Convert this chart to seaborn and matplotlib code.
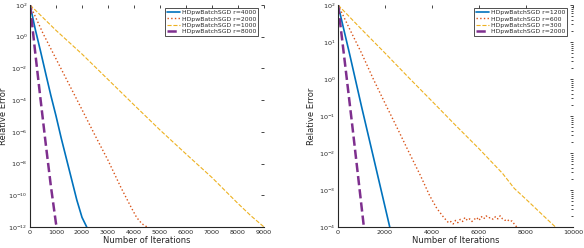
import matplotlib
matplotlib.use("Agg")
import matplotlib.pyplot as plt
import matplotlib.ticker as mticker
import pandas as pd
import seaborn as sns

# ---- left panel: r = 4000 / 2000 / 1000 / 8000 ----
left_labels = ["HDpwBatchSGD r=4000", "HDpwBatchSGD r=2000",
               "HDpwBatchSGD r=1000", "HDpwBatchSGD r=8000"]
left_blue_x = [0, 200, 400, 600, 800, 1000, 1200, 1400, 1600, 1800, 2000, 2180]
left_blue_y = [1e2, 3e0, 1.3e-1, 5e-3, 2e-4, 1e-5, 4e-7, 2e-8, 1e-9, 5e-11, 4e-12, 1e-12]
left_orange_x = [0, 500, 1000, 1500, 2000, 2500, 3000, 3500, 3900, 4100, 4300, 4500]
left_orange_y = [1e2, 1.6e0, 4e-2, 1e-3, 2.5e-5, 6e-7, 1.6e-8, 3e-10, 1.6e-11, 4e-12, 1.6e-12, 1e-12]
left_yellow_x = [0, 1000, 2000, 3000, 4000, 5000, 6000, 7000, 8000, 8500, 9000]
left_yellow_y = [1e2, 2.5e0, 8e-2, 2e-3, 5e-5, 1.3e-6, 4e-8, 1.3e-9, 3e-11, 5e-12, 1e-12]
left_purple_x = [0, 200, 400, 600, 800, 1000, 1030]
left_purple_y = [1e2, 1e-1, 1.3e-4, 2e-7, 4e-10, 1.6e-12, 1e-12]

# ---- right panel: r = 1200 / 600 / 300 / 2000 ----
right_labels = ["HDpwBatchSGD r=1200", "HDpwBatchSGD r=600",
                "HDpwBatchSGD r=300", "HDpwBatchSGD r=2000"]
right_blue_x = [0, 500, 1000, 1500, 2000, 2200]
right_blue_y = [1e2, 4.5e0, 1.8e-1, 8e-3, 3.5e-4, 1e-4]
right_orange_x = [0, 500, 1000, 1500, 2000, 2500, 3000, 3500, 3900, 4200, 4500, 4700,
                  4800, 4900, 5000, 5100, 5200, 5300, 5400, 5500, 5600, 5700, 5800,
                  5900, 6000, 6100, 6200, 6300, 6400, 6500, 6600, 6700, 6800, 6900,
                  7000, 7100, 7200, 7300, 7400, 7500, 7600]
right_orange_y = [1e2, 2.2e1, 5e0, 1e0, 2.2e-1, 5e-2, 1.1e-2, 2.5e-3, 7e-4, 3.2e-4,
                  1.8e-4, 1.3e-4,
                  1.4e-4, 1.2e-4, 1.5e-4, 1.3e-4, 1.6e-4, 1.4e-4, 1.8e-4, 1.5e-4,
                  1.65e-4, 1.4e-4, 1.6e-4, 1.8e-4, 1.5e-4, 1.9e-4, 1.65e-4, 2e-4,
                  1.75e-4, 1.8e-4, 1.6e-4, 1.9e-4, 1.65e-4, 2e-4, 1.65e-4, 1.5e-4,
                  1.6e-4, 1.4e-4, 1.45e-4, 1.2e-4, 1e-4]
right_yellow_x = [0, 1000, 2000, 3000, 4000, 5000, 6000, 7000, 7500, 8000, 8500, 9000, 9250]
right_yellow_y = [1e2, 2.2e1, 5e0, 1.1e0, 2.5e-1, 5.6e-2, 1.3e-2, 2.8e-3, 1.1e-3,
                  5.6e-4, 2.8e-4, 1.4e-4, 1e-4]
right_purple_x = [0, 300, 600, 900, 1100]
right_purple_y = [1e2, 2.5e0, 6e-2, 1.3e-3, 1e-4]

COLORS = ["#0072BD", "#D95319", "#EDB120", "#7E2F8E"]
STYLES = [dict(linestyle="-", linewidth=1.2),
          dict(linestyle=":", linewidth=1.0),
          dict(linestyle="--", linewidth=0.8),
          dict(linestyle="--", linewidth=1.8)]


def draw_panel(ax, series, labels, xmax, xstep, ymin, yticks, legend_anchor, ylab_x):
    for (xs, ys), label, color, style in zip(series, labels, COLORS, STYLES):
        df = pd.DataFrame({"iter": xs, "err": ys})
        sns.lineplot(data=df, x="iter", y="err", ax=ax, color=color,
                     label=label, **style)
    ax.set_yscale("log")
    ax.set_xlim(0, xmax)
    ax.set_ylim(ymin, 1e2)
    ax.set_xticks(range(0, xmax + 1, xstep))
    ax.set_yticks(yticks)
    ax.yaxis.set_major_formatter(mticker.LogFormatterSciNotation())
    ax.set_xlabel("Number of Iterations", fontsize=6, labelpad=1)
    ax.set_ylabel("Relative Error", fontsize=6)
    ax.yaxis.set_label_coords(ylab_x, 0.5)
    ax.tick_params(axis="both", which="both", direction="in", labelsize=4.6,
                   top=True, right=True, pad=2, width=0.6)
    ax.tick_params(axis="both", which="major", length=2.5)
    ax.tick_params(axis="both", which="minor", length=1.2)
    for side in ("top", "right"):
        ax.spines[side].set_visible(False)
    for side in ("left", "bottom"):
        ax.spines[side].set_linewidth(0.8)
    ax.grid(False)
    leg = ax.legend(loc="upper right", bbox_to_anchor=legend_anchor, fontsize=4.4,
                    frameon=True, fancybox=False, borderpad=0.3, labelspacing=0.15,
                    handlelength=2.2, handletextpad=0.3, borderaxespad=0.0)
    leg.get_frame().set_edgecolor("black")
    leg.get_frame().set_linewidth(0.6)


sns.set_theme(style="white")
plt.rcParams["font.family"] = ["DejaVu Sans"]

fig = plt.figure(figsize=(5.84, 2.48), dpi=100)
ax_l = fig.add_axes([0.0514, 0.085, 0.4006, 0.895])
ax_r = fig.add_axes([0.5788, 0.085, 0.4024, 0.895])

draw_panel(ax_l,
           [(left_blue_x, left_blue_y), (left_orange_x, left_orange_y),
            (left_yellow_x, left_yellow_y), (left_purple_x, left_purple_y)],
           left_labels, 9000, 1000, 1e-12,
           [1e-12, 1e-10, 1e-8, 1e-6, 1e-4, 1e-2, 1e0, 1e2],
           (0.975, 0.985), -0.095)
ax_l.yaxis.set_minor_locator(mticker.NullLocator())

draw_panel(ax_r,
           [(right_blue_x, right_blue_y), (right_orange_x, right_orange_y),
            (right_yellow_x, right_yellow_y), (right_purple_x, right_purple_y)],
           right_labels, 10000, 2000, 1e-4,
           [1e-4, 1e-3, 1e-2, 1e-1, 1e0, 1e1, 1e2],
           (0.976, 0.985), -0.095)

fig.savefig("out.png", dpi=100)
